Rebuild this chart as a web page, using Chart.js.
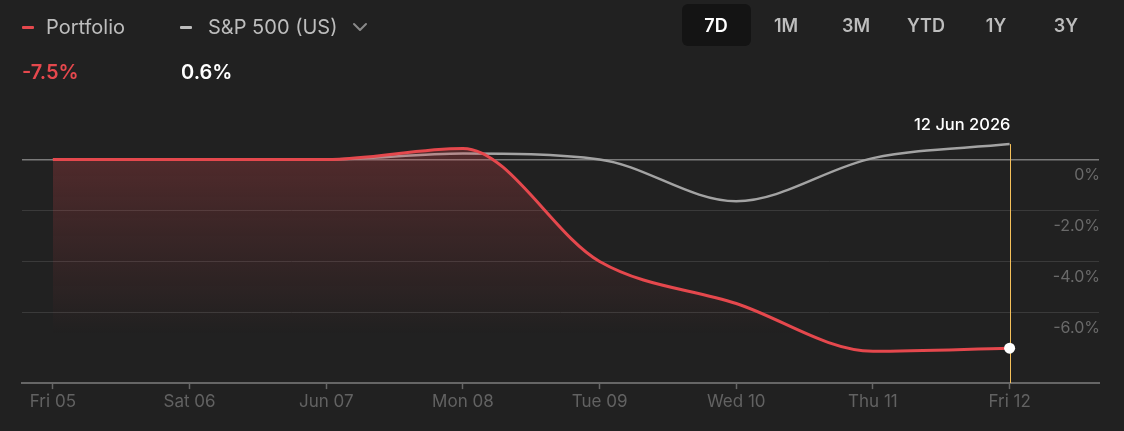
<!DOCTYPE html>
<html>
<head>
<meta charset="utf-8">
<script src="https://cdn.jsdelivr.net/npm/chart.js@4/dist/chart.umd.min.js"></script>
<style>
  html, body { margin: 0; padding: 0; background: #212121; }
  body { width: 1124px; height: 431px; position: relative; overflow: hidden; font-family: Inter, "Noto Sans", sans-serif; }
  #wrap { position: absolute; left: 0; top: 0; width: 1124px; height: 431px; }
  .abs { position: absolute; white-space: nowrap; }
  .dash { position: absolute; height: 3px; width: 12px; border-radius: 1px; }
  .legend { font-size: 20px; color: #bdbdbd; top: 15px; }
  .value { font-size: 20px; font-weight: 600; top: 60px; }
  .range { font-size: 18px; font-weight: 600; color: #bdbdbd; top: 15px; width: 70px; text-align: center; }
  .range.on { color: #fff; }
  #active { position: absolute; left: 682px; top: 4px; width: 69px; height: 42px; background: #141414; border-radius: 6px; }
</style>
</head>
<body>
<div id="wrap"><canvas id="perfChart"></canvas></div>

<div class="dash" style="left:22px;top:26px;background:#e5484d"></div>
<div class="abs legend" style="left:46px">Portfolio</div>
<div class="dash" style="left:180px;top:26px;background:#bdbdbd"></div>
<div class="abs legend" style="left:208px">S&amp;P 500 (US)</div>
<svg class="abs" style="left:352px;top:21px" width="16" height="12" viewBox="0 0 16 12">
  <polyline points="2,3 8,9 14,3" fill="none" stroke="#8a8a8a" stroke-width="2" stroke-linecap="round" stroke-linejoin="round"/>
</svg>
<div class="abs value" id="pfValue" style="left:22px;color:#e5484d"></div>
<div class="abs value" id="spValue" style="left:181px;color:#fff"></div>

<div id="active"></div>

<script>
const days = ['Fri 05', 'Sat 06', 'Jun 07', 'Mon 08', 'Tue 09', 'Wed 10', 'Thu 11', 'Fri 12'];
const portfolio = [0, 0, 0, 0.43, -4.0, -5.65, -7.52, -7.4];
const sp500 = [0, 0, 0, 0.23, 0.0, -1.64, 0.05, 0.6];
const yTicks = [0, -2, -4, -6];
const ranges = ['7D', '1M', '3M', 'YTD', '1Y', '3Y'];
const hoverLabel = '12 Jun 2026';
const pfChange = '-7.5%';
const spChange = '0.6%';

const last = days.length - 1;

document.getElementById('pfValue').textContent = pfChange;
document.getElementById('spValue').textContent = spChange;

ranges.forEach((r, i) => {
    const el = document.createElement('div');
    el.className = 'abs range' + (i === 0 ? ' on' : '');
    el.style.left = (681 + i * 70) + 'px';
    el.textContent = r;
    document.body.appendChild(el);
});

const crosshair = {
    id: 'crosshair',
    beforeDatasetsDraw(chart) {
        const { ctx, chartArea, scales: { x, y } } = chart;
        const px = Math.round(x.getPixelForValue(last)) + 0.5;
        const top = y.getPixelForValue(sp500[last]);
        ctx.save();
        ctx.strokeStyle = '#f5c05a';
        ctx.lineWidth = 1;
        ctx.beginPath();
        ctx.moveTo(px, top);
        ctx.lineTo(px, chartArea.bottom);
        ctx.stroke();
        ctx.fillStyle = '#ffffff';
        ctx.font = '500 16.5px Inter';
        ctx.textAlign = 'right';
        ctx.textBaseline = 'middle';
        ctx.fillText(hoverLabel, px, top - 19);
        ctx.restore();
    }
};

function redFill(context) {
    const { ctx, chartArea } = context.chart;
    if (!chartArea) return 'rgba(229,72,77,0.2)';
    const g = ctx.createLinearGradient(0, chartArea.top, 0, 335);
    g.addColorStop(0, 'rgba(229,72,77,0.27)');
    g.addColorStop(0.5, 'rgba(229,72,77,0.12)');
    g.addColorStop(1, 'rgba(229,72,77,0)');
    return g;
}

const ctx = document.getElementById('perfChart').getContext('2d');
new Chart(ctx, {
    type: 'line',
    data: {
        datasets: [{
            label: 'Portfolio',
            data: portfolio.map((v, i) => ({ x: i, y: v })),
            borderColor: '#e5484d',
            borderWidth: 3,
            backgroundColor: redFill,
            fill: 'start',
            cubicInterpolationMode: 'monotone',
            pointRadius: c => c.dataIndex === last ? 5.5 : 0,
            pointBackgroundColor: '#ffffff',
            pointBorderWidth: 0
        }, {
            label: 'S&P 500 (US)',
            data: sp500.map((v, i) => ({ x: i, y: v })),
            borderColor: '#a3a3a3',
            borderWidth: 2.5,
            fill: false,
            cubicInterpolationMode: 'monotone',
            pointRadius: 0
        }]
    },
    options: {
        responsive: true,
        maintainAspectRatio: false,
        animation: false,
        layout: { padding: { left: 22, right: 23, top: 139, bottom: 15.5 } },
        plugins: { legend: { display: false }, tooltip: { enabled: false } },
        scales: {
            x: {
                type: 'linear',
                min: -0.226,
                max: 7.654,
                afterBuildTicks: scale => { scale.ticks = days.map((d, i) => ({ value: i })); },
                grid: { drawOnChartArea: false, tickLength: 6, tickColor: '#666666', tickWidth: 1.5 },
                border: { color: '#666666', width: 2 },
                ticks: {
                    color: '#626262',
                    font: { family: 'Inter', size: 17 },
                    padding: 3,
                    maxRotation: 0,
                    callback: v => days[v]
                }
            },
            y: {
                position: 'right',
                min: -8.77,
                max: 0.8,
                afterBuildTicks: scale => { scale.ticks = yTicks.map(v => ({ value: v })); },
                grid: {
                    drawTicks: false,
                    color: c => c.tick && c.tick.value === 0 ? '#7a7a7a' : '#3a3a3a',
                    lineWidth: c => c.tick && c.tick.value === 0 ? 1.5 : 1
                },
                border: { display: false },
                ticks: {
                    mirror: true,
                    padding: 1,
                    labelOffset: 16,
                    color: '#6a6a6a',
                    font: { family: 'Inter', size: 16 },
                    callback: v => v === 0 ? '0%' : v.toFixed(1) + '%'
                }
            }
        }
    },
    plugins: [crosshair]
});
</script>
</body>
</html>
